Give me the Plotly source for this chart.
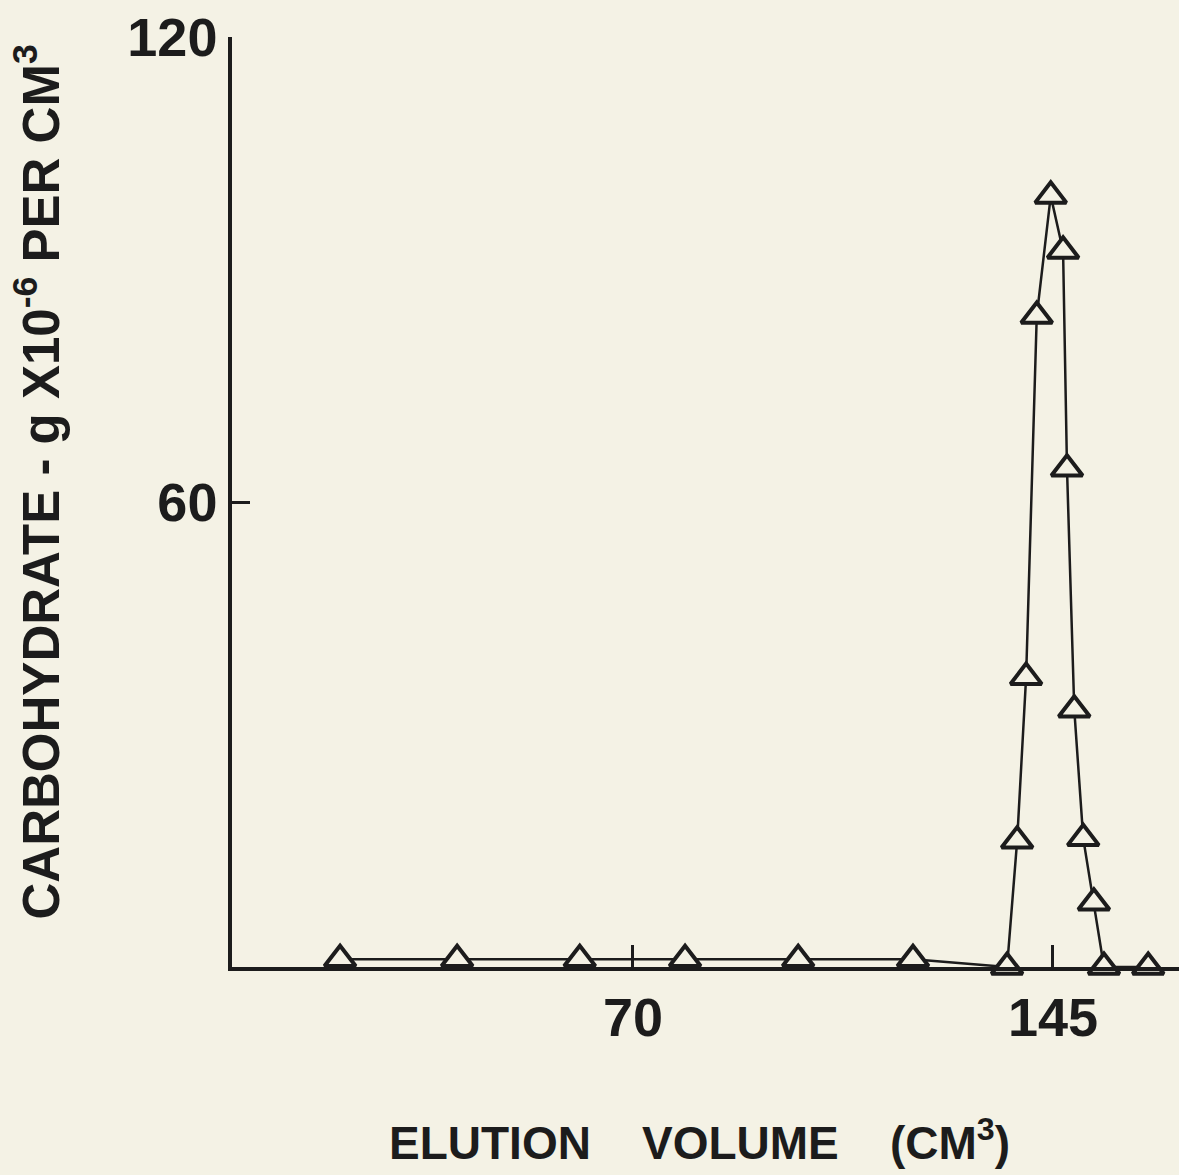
import plotly.graph_objects as go

# Elution volume (cm^3) and carbohydrate (g x 10^-6 per cm^3)
elution_volume = [17.7, 38.6, 60.5, 79.3, 99.5, 120.0, 136.8, 138.6, 140.2, 142.1,
                  144.6, 146.8, 147.5, 148.8, 150.4, 152.3, 154.1, 162.0]
carbohydrate = [1.0, 1.0, 1.0, 1.0, 1.0, 1.0, 0.0, 16.3, 37.4, 84.0,
                99.5, 92.4, 64.3, 33.2, 16.6, 8.3, 0.0, 0.0]

x_tickvals = [70, 145]
x_ticktext = ["70", "145"]
y_tickvals = [60, 120]
y_ticktext = ["60", "120"]

paper = "#f4f2e5"
ink = "#1c1c1c"
font_family = "Liberation Sans, Arial, sans-serif"

fig = go.Figure()
fig.add_trace(go.Scatter(
    x=elution_volume, y=carbohydrate,
    mode="lines+markers",
    line=dict(color=ink, width=2.5),
    marker=dict(symbol="triangle-up", size=27, color=paper,
                line=dict(color=ink, width=4)),
    cliponaxis=False,
    showlegend=False,
))

fig.update_layout(
    width=1179, height=1175, autosize=False,
    margin=dict(l=232, r=0, t=37, b=208),
    paper_bgcolor=paper, plot_bgcolor=paper,
    font=dict(family=font_family, color=ink),
    xaxis=dict(
        range=[-1.6, 167.5], showgrid=False, zeroline=False,
        showline=True, linecolor=ink, linewidth=4,
        ticks="inside", ticklen=22, tickwidth=3, tickcolor=ink,
        tickvals=x_tickvals, ticktext=x_ticktext,
        tickfont=dict(size=54, family=font_family, color=ink, weight="bold"),
        ticklabelstandoff=0,
    ),
    yaxis=dict(
        range=[0, 120], showgrid=False, zeroline=False,
        showline=True, linecolor=ink, linewidth=3.5,
        ticks="inside", ticklen=18, tickwidth=3, tickcolor=ink,
        tickvals=y_tickvals, ticktext=y_ticktext,
        tickfont=dict(size=54, family=font_family, color=ink, weight="bold"),
        ticklabelstandoff=0,
    ),
    annotations=[
        dict(text="ELUTION&nbsp;&nbsp;&nbsp;&nbsp;VOLUME&nbsp;&nbsp;&nbsp;&nbsp;(CM<sup>3</sup>)",
             xref="paper", yref="paper", x=0.494, y=-0.186,
             xanchor="center", yanchor="middle", showarrow=False,
             font=dict(size=46, family=font_family, color=ink, weight="bold")),
        dict(text="CARBOHYDRATE - g X10<sup>-6</sup> PER CM<sup>3</sup>",
             xref="paper", yref="paper", x=-0.206, y=0.522,
             xanchor="center", yanchor="middle", showarrow=False, textangle=-90,
             font=dict(size=51, family=font_family, color=ink, weight="bold")),
    ],
)

fig.write_html("out.html", config={"displayModeBar": False},
               post_script="document.body.style.margin='0';document.body.style.background='%s';" % paper)
